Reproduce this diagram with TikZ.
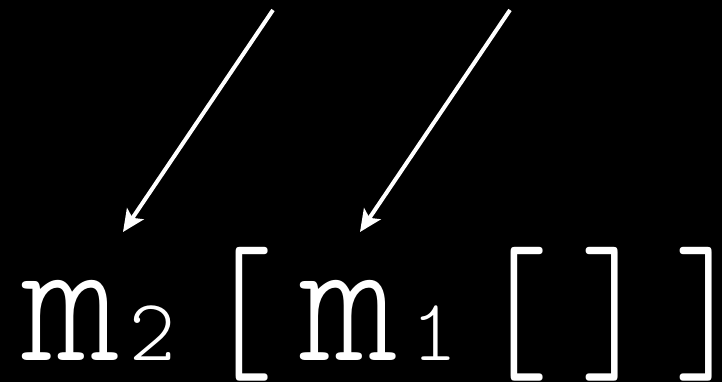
\documentclass[tikz,border=0pt]{standalone}
\usepackage{fontspec}
\newfontfamily\lightmono{lmmonolt10-regular.otf}
\usetikzlibrary{arrows.meta}
\newcommand{\narrow}[1]{\scalebox{0.75}[1]{#1}}
\begin{document}
\begin{tikzpicture}[x=1pt,y=-1pt,
  glyph/.style={text=white, inner sep=0pt, outer sep=0pt, anchor=base},
  big/.style={glyph, font=\lightmono\fontsize{186}{186}\selectfont},
  small/.style={glyph, font=\lightmono\fontsize{88}{88}\selectfont},
  brk/.style={glyph, font=\lightmono\fontsize{171}{171}\selectfont},
  pointer/.style={white, line width=4pt, -{Stealth[length=22pt 0, width=20pt 0, inset=5pt]}}]
\fill[black] (0,0) rectangle (722,382);
\useasboundingbox (0,0) rectangle (722,382);
\node[big]   (m2)  at (71.5,360) {m};
\node[small] (s2)  at (152.5,360) {2};
\node[brk]   (lb1) at (240,366) {\narrow{[}};
\node[big]   (m1)  at (349.5,360) {m};
\node[small] (s1)  at (434.5,360) {1};
\node[brk]   (lb2) at (515,366) {\narrow{[}};
\node[brk]   (rb2) at (614.5,366) {\narrow{]}};
\node[brk]   (rb1) at (708,366) {\narrow{]}};
\coordinate (a1) at (273,10);
\coordinate (t1) at (123,232);
\coordinate (a2) at (510,10);
\coordinate (t2) at (360,232);
\draw[pointer] (a1) -- (t1);
\draw[pointer] (a2) -- (t2);
\end{tikzpicture}
\end{document}
